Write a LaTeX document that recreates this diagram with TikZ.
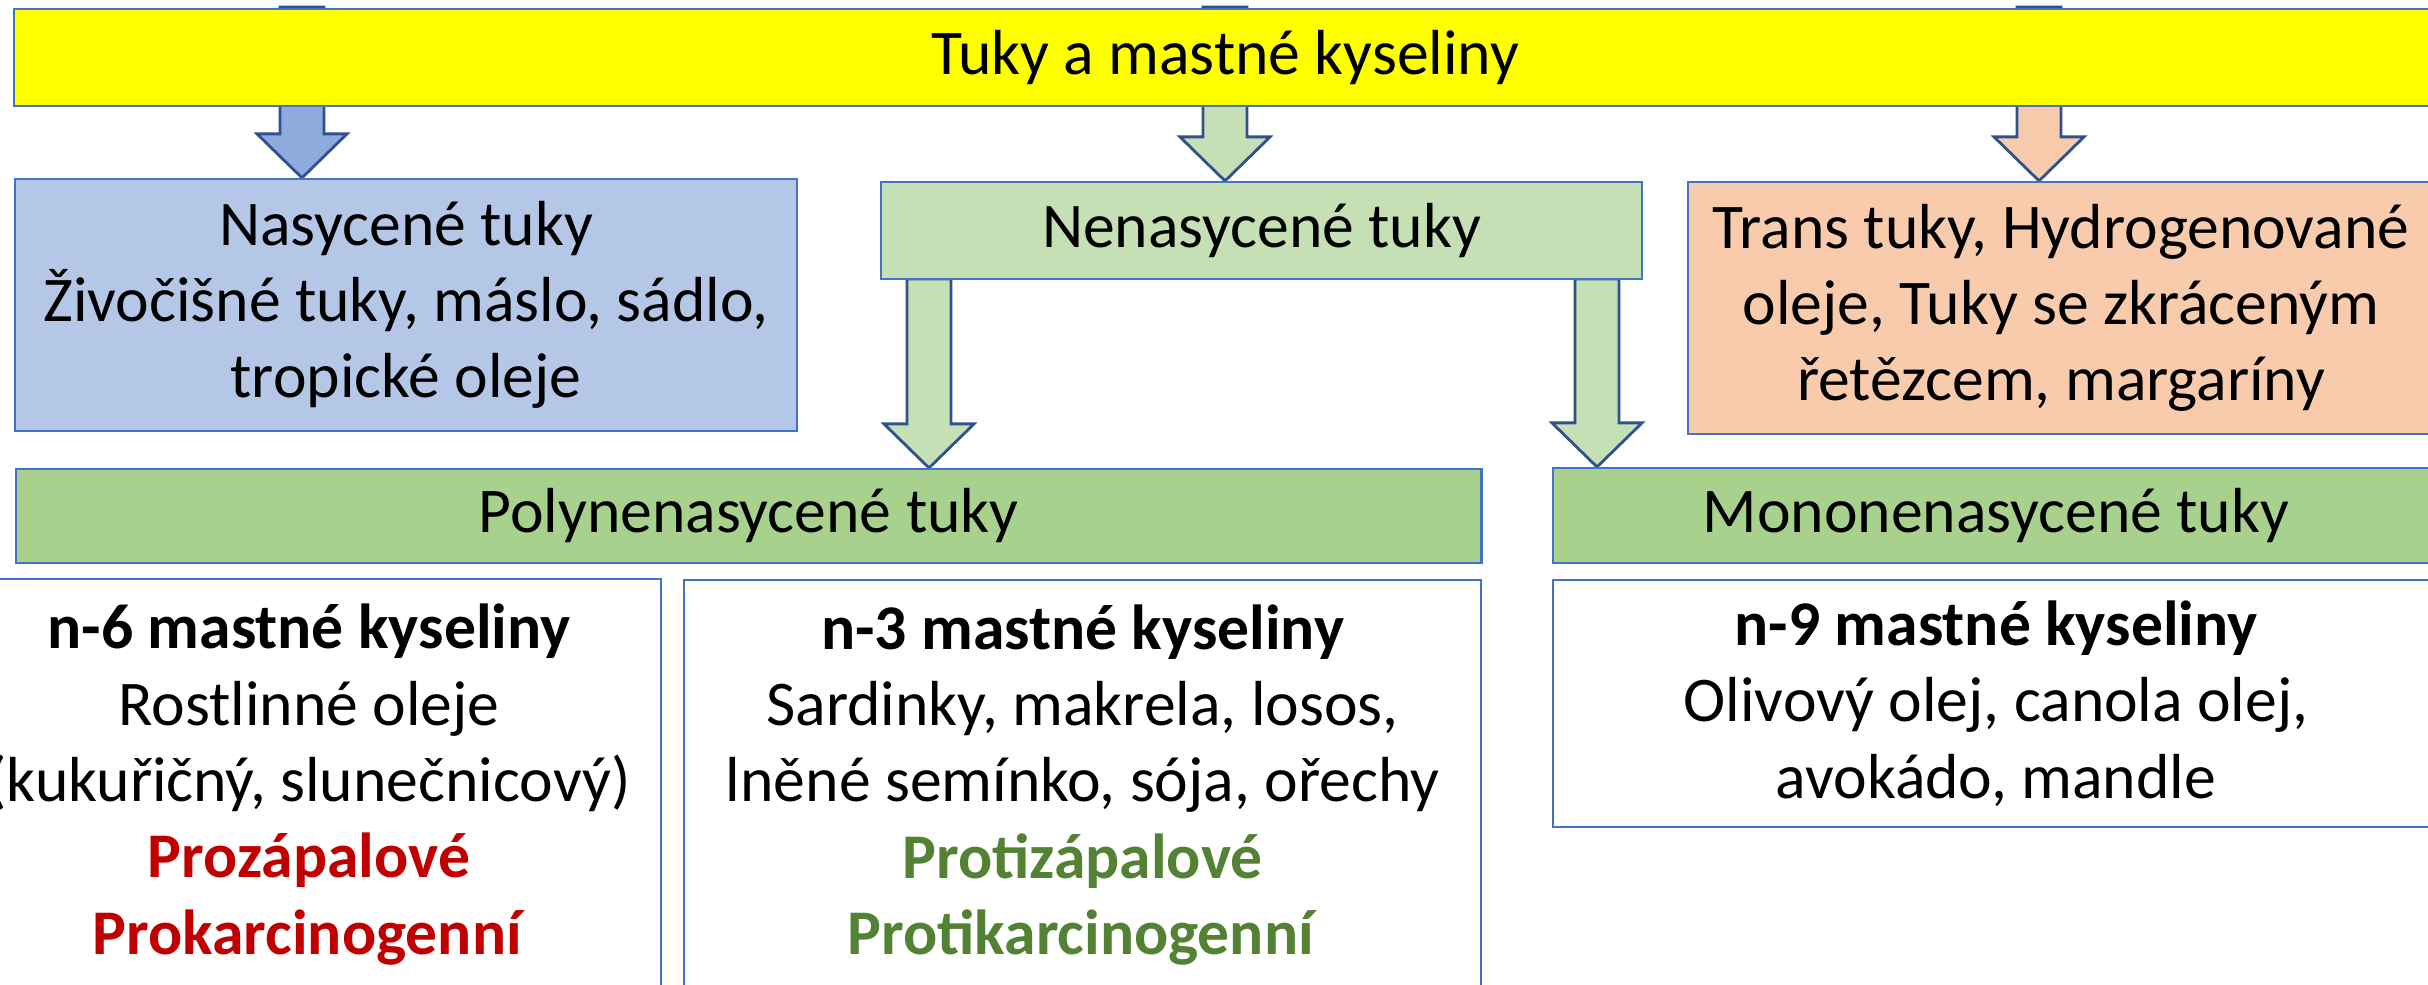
\documentclass[tikz,border=0pt]{standalone}
\usepackage{fontspec}
\setmainfont{Carlito}
\usepackage{xcolor}
\usetikzlibrary{calc,backgrounds}

\definecolor{boxline}{HTML}{4472C4}
\definecolor{arrline}{HTML}{2F528F}
\definecolor{topfill}{HTML}{FFFF00}
\definecolor{satfill}{HTML}{B4C7E7}
\definecolor{unsatfill}{HTML}{C5E0B4}
\definecolor{transfill}{HTML}{F8CBAD}
\definecolor{subfill}{HTML}{A9D18E}
\definecolor{bluearr}{HTML}{8FAADC}
\definecolor{proinfl}{HTML}{C00000}
\definecolor{antiinfl}{HTML}{548235}

\begin{document}
\begin{tikzpicture}[
    x=0.01cm, y=-0.01cm,
    box/.style={rectangle, draw=boxline, line width=0.6pt, inner sep=0pt, align=center, font=\fontsize{18.1}{21.7}\selectfont},
    fat/.style={draw=arrline, line width=0.8pt, to path={let \p1=(\tikztostart), \p2=(\tikztotarget) in
        (\x1-0.22cm,\y1) -- (\x1-0.22cm,\y2+0.44cm) -- (\x1-0.45cm,\y2+0.44cm) -- (\x1,\y2)
        -- (\x1+0.45cm,\y2+0.44cm) -- (\x1+0.22cm,\y2+0.44cm) -- (\x1+0.22cm,\y1) -- cycle}}
]
    \clip (0,0) rectangle (2428,984);

    % Top level
    \node[box, fill=topfill, minimum width=24.2cm, minimum height=0.97cm] (top) at (1225,57.5) {Tuky a mastné kyseliny};

    % Second level
    \node[box, fill=satfill, minimum width=7.82cm, minimum height=2.52cm] (sat) at (406,305) {Nasycené tuky\\Živočišné tuky, máslo, sádlo,\\tropické oleje};
    \node[box, fill=unsatfill, minimum width=7.61cm, minimum height=0.97cm] (unsat) at (1261.5,230.5) {Nenasycené tuky};
    \node[box, fill=transfill, minimum width=7.46cm, minimum height=2.52cm] (trans) at (2061,308) {Trans tuky, Hydrogenované\\oleje, Tuky se zkráceným\\řetězcem, margaríny};

    % Third level
    \node[box, fill=subfill, minimum width=14.65cm, minimum height=0.94cm] (poly) at (748.5,516) {Polynenasycené tuky};
    \node[box, fill=subfill, minimum width=8.86cm, minimum height=0.95cm] (mono) at (1996,515.5) {Mononenasycené tuky};

    % Fatty acids
    \node[box, fill=white, minimum width=7.04cm, minimum height=4.11cm] (n6) at (309,784.5) {\textbf{n-6 mastné kyseliny}\\Rostlinné oleje\\(kukuřičný, slunečnicový)\\\textcolor{proinfl}{\textbf{Prozápalové}}\\\textcolor{proinfl}{\textbf{Prokarcinogenní}}};
    \node[box, fill=white, minimum width=7.97cm, minimum height=4.10cm] (n3) at (1082.5,785) {\textbf{n-3 mastné kyseliny}\\Sardinky, makrela, losos,\\lněné semínko, sója, ořechy\\\textcolor{antiinfl}{\textbf{Protizápalové}}\\\textcolor{antiinfl}{\textbf{Protikarcinogenní}}};
    \node[box, fill=white, minimum width=8.86cm, minimum height=2.47cm] (n9) at (1996,703.5) {\textbf{n-9 mastné kyseliny}\\Olivový olej, canola olej,\\avokádo, mandle};

    % Arrows
    \coordinate (s1) at (302,7);
    \coordinate (s2) at (1225,7);
    \coordinate (s3) at (2039,7);
    \coordinate (s4) at (929,279);
    \coordinate (s5) at (1597,279);
    \begin{scope}[on background layer]
        \draw[fat, fill=bluearr] (s1) to (sat.north -| s1);
        \draw[fat, fill=unsatfill] (s2) to (unsat.north -| s2);
        \draw[fat, fill=transfill] (s3) to (trans.north -| s3);
        \draw[fat, fill=unsatfill] (s4) to (poly.north -| s4);
        \draw[fat, fill=unsatfill] (s5) to (mono.north -| s5);
    \end{scope}
\end{tikzpicture}
\end{document}
